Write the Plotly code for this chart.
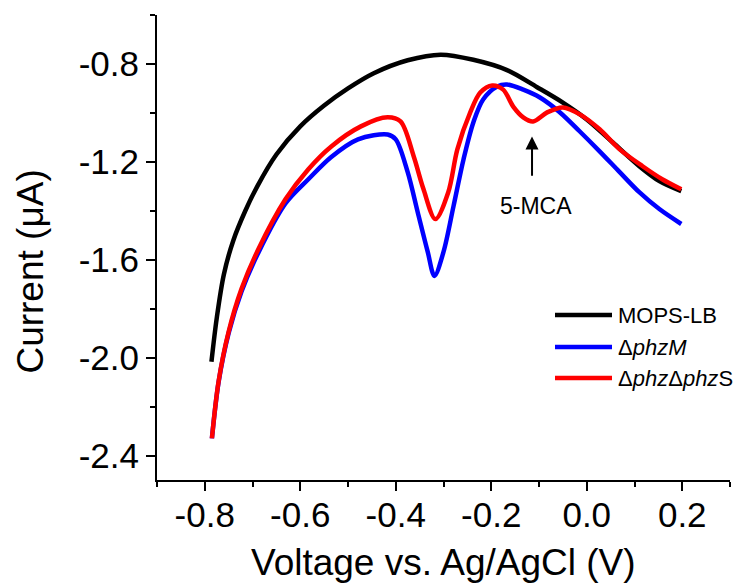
import plotly.graph_objects as go

# Cyclic voltammetry scans (voltage in V vs Ag/AgCl, current in uA)
mops_v = [-0.786, -0.775, -0.760, -0.740, -0.715, -0.690, -0.650, -0.600, -0.550,
          -0.500, -0.446, -0.375, -0.306, -0.2375, -0.167, -0.104, -0.05, 0.0,
          0.054, 0.110, 0.152, 0.198]
mops_i = [-2.017, -1.84, -1.66, -1.52, -1.40, -1.30, -1.17, -1.055, -0.97,
          -0.90, -0.838, -0.785, -0.762, -0.783, -0.825, -0.895, -0.958, -1.027,
          -1.12, -1.218, -1.279, -1.32]

phzm_v = [-0.785, -0.771, -0.75, -0.723, -0.6875, -0.631, -0.583, -0.535, -0.479,
          -0.417, -0.40, -0.375, -0.354, -0.333, -0.319, -0.30, -0.279, -0.258,
          -0.2375, -0.217, -0.1875, -0.167, -0.133, -0.098, -0.056, -0.015, 0.027,
          0.069, 0.110, 0.152, 0.198]
phzm_i = [-2.33, -2.10, -1.90, -1.73, -1.57, -1.37, -1.271, -1.18, -1.108,
          -1.088, -1.108, -1.242, -1.406, -1.568, -1.666, -1.568, -1.381, -1.189,
          -1.039, -0.945, -0.892, -0.884, -0.905, -0.937, -0.998, -1.075, -1.157,
          -1.242, -1.324, -1.393, -1.454]

phzs_v = [-0.785, -0.771, -0.75, -0.723, -0.6875, -0.631, -0.583, -0.535, -0.473,
          -0.417, -0.39, -0.3625, -0.342, -0.317, -0.29, -0.271, -0.244, -0.223,
          -0.198, -0.175, -0.154, -0.133, -0.1125, -0.083, -0.05, -0.0146, 0.027,
          0.069, 0.117, 0.158, 0.198]
phzs_i = [-2.33, -2.097, -1.894, -1.719, -1.556, -1.353, -1.23, -1.137, -1.055,
          -1.018, -1.035, -1.177, -1.311, -1.434, -1.324, -1.149, -0.998, -0.917,
          -0.888, -0.905, -0.974, -1.018, -1.035, -0.998, -0.978, -1.006, -1.067,
          -1.149, -1.218, -1.271, -1.312]

x_ticks = [-0.8, -0.6, -0.4, -0.2, 0.0, 0.2]
x_labels = ["-0.8", "-0.6", "-0.4", "-0.2", "0.0", "0.2"]
y_ticks = [-2.4, -2.0, -1.6, -1.2, -0.8]
y_labels = ["-2.4", "-2.0", "-1.6", "-1.2", "-0.8"]

series = [
    ("MOPS-LB", mops_v, mops_i, "#000000"),
    ("\u0394<i>phzM</i>", phzm_v, phzm_i, "#0000ff"),
    ("\u0394<i>phz</i>\u0394<i>phz</i>S", phzs_v, phzs_i, "#ff0000"),
]

FONT = "Liberation Sans, Arial, sans-serif"

fig = go.Figure()
for name, v, i, color in series:
    fig.add_trace(go.Scatter(
        x=v, y=i, mode="lines", name=name,
        line=dict(color=color, width=4.5, shape="spline", smoothing=0.9),
        showlegend=False,
    ))

axis_common = dict(
    showgrid=False, zeroline=False, showline=True, linecolor="black", linewidth=2,
    ticks="outside", ticklen=9, tickwidth=2, tickcolor="black",
    tickfont=dict(family=FONT, size=35, color="black"),
    mirror=False,
)

fig.update_xaxes(
    range=[-0.9, 0.3], tickvals=x_ticks, ticktext=x_labels, ticklabelstandoff=-6,
    minor=dict(dtick=0.1, tick0=-0.9, ticks="outside", ticklen=5, tickwidth=2,
               tickcolor="black"),
    **axis_common,
)
fig.update_yaxes(
    range=[-2.5, -0.6], tickvals=y_ticks, ticktext=y_labels,
    minor=dict(dtick=0.2, tick0=-2.4, ticks="outside", ticklen=5, tickwidth=2,
               tickcolor="black"),
    **axis_common,
)

annotations = [
    dict(text="Voltage vs. Ag/AgCl (V)", xref="paper", yref="paper", x=0.5, y=-0.178,
         xanchor="center", yanchor="middle", showarrow=False,
         font=dict(family=FONT, size=37, color="black")),
    dict(text="Current (\u03bcA)", xref="paper", yref="paper", x=-0.221, y=0.449,
         xanchor="center", yanchor="middle", showarrow=False, textangle=-90,
         font=dict(family=FONT, size=37, color="black")),
    # marker for the 5-MCA reduction peak
    dict(text="", x=-0.1146, y=-1.096, ax=-0.1146, ay=-1.263, xref="x", yref="y",
         axref="x", ayref="y", showarrow=True, arrowhead=2, arrowsize=1.3,
         arrowwidth=2, arrowcolor="black"),
    dict(text="5-MCA", x=-0.107, y=-1.381, xref="x", yref="y", showarrow=False,
         xanchor="center", yanchor="middle",
         font=dict(family=FONT, size=23, color="black")),
]

# legend drawn as line samples with labels
legend_y = [315, 347, 378]
shapes = []
W, H, L, T = 737, 586, 157, 15
PW, PH = 573, 465
for (name, _, _, color), py in zip(series, legend_y):
    yp = 1 - (py - T) / PH
    shapes.append(dict(type="line", xref="paper", yref="paper",
                       x0=(555 - L) / PW, x1=(612 - L) / PW, y0=yp, y1=yp,
                       line=dict(color=color, width=4.5)))
    annotations.append(dict(text=name, xref="paper", yref="paper",
                            x=(616 - L) / PW, y=yp, xanchor="left", yanchor="middle",
                            showarrow=False,
                            font=dict(family=FONT, size=22, color="black")))

fig.update_layout(
    width=W, height=H,
    margin=dict(l=L, r=W - L - PW, t=T, b=H - T - PH),
    plot_bgcolor="white", paper_bgcolor="white",
    annotations=annotations, shapes=shapes,
)

fig.write_html("out.html")
